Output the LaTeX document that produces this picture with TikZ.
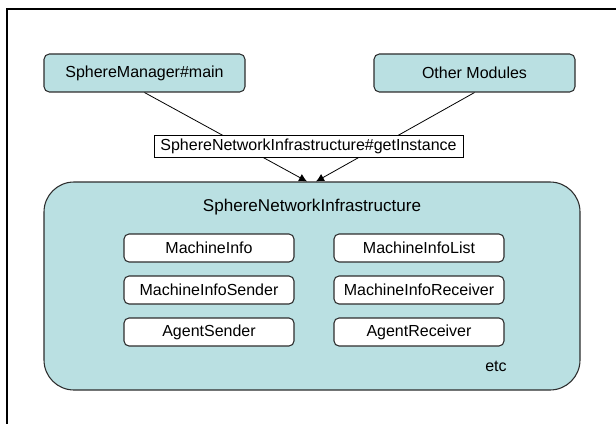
\documentclass[tikz,border=0pt]{standalone}
\usepackage{fontspec}
\setmainfont{Liberation Sans}
\usepackage{xcolor}
\usepackage{tikz}
\usetikzlibrary{shapes.geometric, arrows.meta, positioning, calc}
\definecolor{modfill}{RGB}{186,224,226}
\definecolor{modline}{RGB}{45,45,45}
\tikzstyle{arrow} = [-{Latex[length=6pt,width=6pt]}]
\tikzstyle{module} = [draw=modline, line width=0.8pt, fill=modfill, rounded corners=4pt, inner sep=0pt, minimum width=150.75pt, minimum height=28.5pt, font=\fontsize{12}{14}\selectfont]
\tikzstyle{part} = [draw=modline, line width=0.8pt, fill=white, rounded corners=3.75pt, inner sep=0pt, minimum width=127.5pt, minimum height=21pt, font=\fontsize{12}{14}\selectfont]

\begin{document}
\begin{tikzpicture}[x=0.75pt, y=-0.75pt]
\useasboundingbox (0,0) rectangle (616,424);

% Page frame (only top and left edges visible)
\draw[line width=1.5pt] (616,9) -- (7,9) -- (7,424);

% Callers
\node[module] (mgr) at (144.5,73) {SphereManager\#main};
\node[module] (other) at (474.5,73) {Other Modules};

% Infrastructure container
\node[module, minimum width=402pt, minimum height=156pt, rounded corners=22.5pt] (infra) at (312,286) {};
\node[font=\fontsize{12.8}{15}\selectfont] (title) at (312,207) {SphereNetworkInfrastructure};

% Parts
\node[part] (info) at (209,248) {MachineInfo};
\node[part] (infolist) at (419,248) {MachineInfoList};
\node[part] (infosender) at (209,290) {MachineInfoSender};
\node[part] (inforecv) at (419,290) {MachineInfoReceiver};
\node[part] (agentsender) at (209,332) {AgentSender};
\node[part] (agentrecv) at (419,332) {AgentReceiver};
\node[font=\fontsize{12}{14}\selectfont] (etc) at (496,366) {etc};

% Calls
\coordinate (tipL) at ($(infra.north)+(-5,0)$);
\coordinate (tipR) at ($(infra.north)+(4,0)$);
\draw[arrow, line width=0.6pt] (mgr.south) -- (tipL);
\draw[arrow, line width=0.6pt] (other.south) -- (tipR);

% Label over the calls
\node[draw, line width=0.6pt, fill=white, inner sep=0pt, minimum width=231.75pt, minimum height=16.5pt, font=\fontsize{12}{14}\selectfont] (getinst) at (308.5,146) {SphereNetworkInfrastructure\#getInstance};
\end{tikzpicture}
\end{document}
